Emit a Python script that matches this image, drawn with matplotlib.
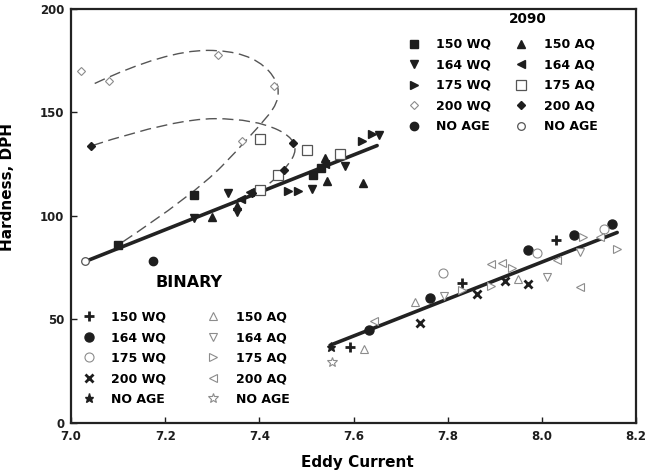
import matplotlib
matplotlib.use("Agg")
import matplotlib.pyplot as plt
from matplotlib.path import Path
from matplotlib.patches import PathPatch

plt.rcParams['font.family'] = ['DejaVu Sans']
plt.rcParams['font.weight'] = 'bold'

# ---- 2090 alloy (upper group) ----
a_150wq_x = [7.10, 7.262, 7.514, 7.53]
a_150wq_y = [86, 110, 120, 123]
a_150aq_x = [7.299, 7.352, 7.543, 7.621, 7.54]
a_150aq_y = [99.7, 105, 117, 116, 128]
a_164wq_x = [7.26, 7.333, 7.352, 7.512, 7.582, 7.655]
a_164wq_y = [99, 111, 102, 113, 124, 139]
a_164aq_x = [7.38, 7.36, 7.54]
a_164aq_y = [111.7, 108, 125]
a_175wq_x = [7.460, 7.481, 7.617, 7.639]
a_175wq_y = [112, 112, 136, 139.6]
a_175aq_x = [7.401, 7.50, 7.571, 7.440, 7.401]
a_175aq_y = [137, 132, 130, 120, 112.6]
a_200wq_x = [7.021, 7.081, 7.311, 7.431, 7.363]
a_200wq_y = [170, 165, 178, 163, 136]
a_200aq_x = [7.042, 7.472, 7.452, 7.385]
a_200aq_y = [134, 135, 122, 111]
a_noage_f_x = [7.174]
a_noage_f_y = [78]
a_noage_o_x = [7.030]
a_noage_o_y = [78]

# ---- binary alloy (lower group) ----
b_150wq_x = [7.593, 7.831, 8.029]
b_150wq_y = [36.8, 67.4, 88.4]
b_150aq_x = [7.622, 7.731, 7.950]
b_150aq_y = [35.6, 58.6, 69.6]
b_164wq_x = [7.632, 7.763, 7.970, 8.069, 8.150]
b_164wq_y = [45, 60.2, 83.6, 90.8, 96]
b_164aq_x = [7.792, 8.010, 8.081]
b_164aq_y = [61.5, 70.7, 82.7]
b_175wq_x = [7.791, 7.990, 8.131]
b_175wq_y = [72.6, 82, 93.5]
b_175aq_x = [7.830, 7.891, 7.937, 8.088, 8.159]
b_175aq_y = [64.2, 66.2, 74.7, 89.7, 83.9]
b_200wq_x = [7.741, 7.862, 7.922, 7.971]
b_200wq_y = [48.1, 62.3, 68.6, 67.1]
b_200aq_x = [7.644, 7.893, 7.915, 8.081, 8.032, 8.124]
b_200aq_y = [49, 76.8, 77.4, 65.5, 78.7, 90]
b_noage_f_x = [7.552]
b_noage_f_y = [36.8]
b_noage_o_x = [7.554]
b_noage_o_y = [29.6]

# fitted lines (end points)
fit_2090_x = [7.03, 7.65]
fit_2090_y = [78, 134]
fit_bin_x = [7.55, 8.16]
fit_bin_y = [37.5, 92]

# dashed guide curves (control polygons)
curve1 = [(7.05, 164), (7.20, 180), (7.38, 180), (7.46, 160), (7.38, 138), (7.26, 110), (7.10, 86)]
curve2 = [(7.045, 134), (7.22, 147), (7.39, 147), (7.49, 136), (7.45, 120), (7.40, 112)]

labels_wq = ['150 WQ', '164 WQ', '175 WQ', '200 WQ', 'NO AGE']
labels_aq = ['150 AQ', '164 AQ', '175 AQ', '200 AQ', 'NO AGE']

ink = '#1e1e1e'
faint = '#8c8c8c'

fig = plt.figure(figsize=(6.47, 4.73), dpi=100)
ax = fig.add_axes([0.110, 0.106, 0.873, 0.875])


def smooth_path(pts):
    verts = [pts[0]]
    codes = [Path.MOVETO]
    n = len(pts)
    for i in range(1, n - 1):
        if i < n - 2:
            end = ((pts[i][0] + pts[i + 1][0]) / 2, (pts[i][1] + pts[i + 1][1]) / 2)
        else:
            end = pts[i + 1]
        verts += [pts[i], end]
        codes += [Path.CURVE3, Path.CURVE3]
    return Path(verts, codes)


for c in (curve1, curve2):
    ax.add_patch(PathPatch(smooth_path(c), fill=False, edgecolor='#555555', lw=1.0,
                           linestyle=(0, (8, 4)), zorder=1))

ax.plot(fit_2090_x, fit_2090_y, color='#222222', lw=2.6, solid_capstyle='round', zorder=2)
ax.plot(fit_bin_x, fit_bin_y, color='#222222', lw=2.6, solid_capstyle='round', zorder=2)

# style per series: (marker, size, filled, edge colour, edge width)
sty_2090_wq = [('s', 6, True, ink, 1), ('v', 6, True, ink, 1), ('>', 6, True, ink, 1),
               ('D', 4.5, False, faint, 0.8), ('o', 6, True, ink, 1)]
sty_2090_aq = [('^', 6, True, ink, 1), ('<', 6, True, ink, 1), ('s', 7.5, False, '#555555', 0.9),
               ('D', 4.5, True, ink, 1), ('o', 5.5, False, '#555555', 0.9)]
sty_bin_wq = [('+', 7, True, ink, 2), ('o', 6.5, True, ink, 1), ('o', 6.5, False, faint, 0.8),
              ('x', 5.5, True, ink, 2), ('*', 6.5, True, ink, 1)]
sty_bin_aq = [('^', 6, False, faint, 0.8), ('v', 6, False, faint, 0.8), ('>', 6, False, faint, 0.8),
              ('<', 6, False, faint, 0.8), ('*', 7, False, faint, 0.8)]

data_2090_wq = [(a_150wq_x, a_150wq_y), (a_164wq_x, a_164wq_y), (a_175wq_x, a_175wq_y),
                (a_200wq_x, a_200wq_y), (a_noage_f_x, a_noage_f_y)]
data_2090_aq = [(a_150aq_x, a_150aq_y), (a_164aq_x, a_164aq_y), (a_175aq_x, a_175aq_y),
                (a_200aq_x, a_200aq_y), (a_noage_o_x, a_noage_o_y)]
data_bin_wq = [(b_150wq_x, b_150wq_y), (b_164wq_x, b_164wq_y), (b_175wq_x, b_175wq_y),
               (b_200wq_x, b_200wq_y), (b_noage_f_x, b_noage_f_y)]
data_bin_aq = [(b_150aq_x, b_150aq_y), (b_164aq_x, b_164aq_y), (b_175aq_x, b_175aq_y),
               (b_200aq_x, b_200aq_y), (b_noage_o_x, b_noage_o_y)]


def draw(data, styles, labels):
    handles = []
    for (xs, ys), (m, ms, filled, ec, mew), lab in zip(data, styles, labels):
        fc = ec if filled else 'white'
        h, = ax.plot(xs, ys, linestyle='none', marker=m, markersize=ms,
                     markerfacecolor=fc, markeredgecolor=ec, markeredgewidth=mew,
                     label=lab, zorder=3)
        handles.append(h)
    return handles


h1 = draw(data_2090_wq, sty_2090_wq, labels_wq)
h2 = draw(data_2090_aq, sty_2090_aq, labels_aq)
h3 = draw(data_bin_wq, sty_bin_wq, labels_wq)
h4 = draw(data_bin_aq, sty_bin_aq, labels_aq)

leg1 = ax.legend(handles=h1 + h2, ncol=2, loc='upper left', bbox_to_anchor=(0.584, 0.93),
                 frameon=False, fontsize=9, numpoints=1, borderpad=0, borderaxespad=0,
                 labelspacing=0.6, handlelength=2, handletextpad=0.8, columnspacing=1.4)
ax.add_artist(leg1)
leg2 = ax.legend(handles=h3 + h4, ncol=2, loc='upper left', bbox_to_anchor=(0.009, 0.271),
                 frameon=False, fontsize=9, numpoints=1, borderpad=0, borderaxespad=0,
                 labelspacing=0.6, handlelength=2, handletextpad=0.8, columnspacing=2.75)

ax.text(7.97, 195, '2090', ha='center', va='center', fontsize=9.8, fontweight='bold')
ax.text(7.25, 68, 'BINARY', ha='center', va='center', fontsize=11.5, fontweight='bold')

ax.set_xlim(7.0, 8.2)
ax.set_ylim(0, 200)
ax.set_xticks([7.0, 7.2, 7.4, 7.6, 7.8, 8.0, 8.2])
ax.set_xticklabels(['7.0', '7.2', '7.4', '7.6', '7.8', '8.0', '8.2'])
ax.set_yticks([0, 50, 100, 150, 200])
ax.tick_params(direction='in', length=4.5, width=1, labelsize=8.5, pad=5, colors=ink)
for s in ax.spines.values():
    s.set_linewidth(1.6)
    s.set_color('#222222')

ax.set_xlabel('Eddy Current', fontsize=11, fontweight='bold')
ax.set_ylabel('Hardness, DPH', fontsize=11, fontweight='bold')
ax.xaxis.set_label_coords(0.506, -0.077)
ax.yaxis.set_label_coords(-0.099, 0.57)

fig.savefig('out.png', dpi=100)
